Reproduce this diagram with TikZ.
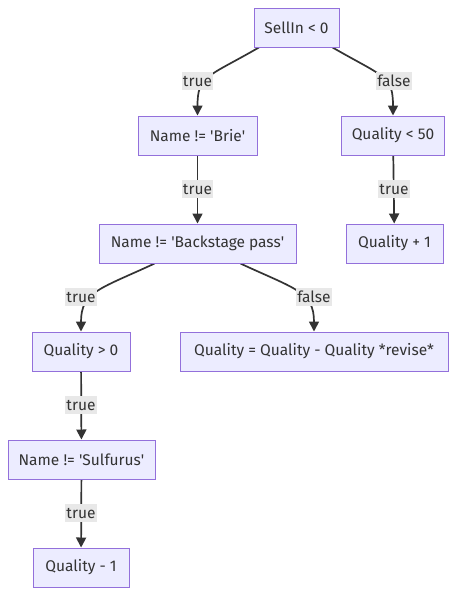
\documentclass[tikz,border=0pt]{standalone}
\usepackage{fontspec}
\setmainfont{Fira Sans}
\usepackage{xcolor}
\usepackage{tikz}
\usetikzlibrary{arrows.meta,backgrounds}
\definecolor{boxfill}{HTML}{ECECFF}
\definecolor{boxline}{HTML}{9370DB}
\definecolor{edgeink}{HTML}{333333}
\definecolor{labelfill}{HTML}{E8E8E8}
\newcommand{\sq}{\textquotesingle}
\tikzset{
  gildedpicture/.style={x=1pt, y=1pt},
  gildedbox/.style={draw=boxline, fill=boxfill, line width=1pt, font=\fontsize{15.5}{18}\selectfont, text=edgeink, inner xsep=10pt, inner ysep=0pt, minimum height=39pt},
  gildedlabel/.style={fill=labelfill, font=\fontsize{15.5}{18}\selectfont, text=edgeink, inner sep=1pt, minimum height=18pt},
  gildedarrow/.style={-{Triangle[length=10pt,width=10pt]}, line width=1.7pt, draw=edgeink},
  gildedbend/.style={out distance=60pt, in distance=40pt}
}

\begin{document}
\begin{tikzpicture}[gildedpicture]
\useasboundingbox (0,0) rectangle (456,-595);
\node[gildedbox, minimum width=85pt] (sellin) at (296.5,-27.5) {SellIn < 0};
\node[gildedbox, minimum width=119pt] (brie) at (197.5,-135.5) {Name != \sq Brie\sq};
\node[gildedbox, minimum width=102pt] (below50) at (393,-135.5) {Quality < 50};
\node[gildedbox, minimum width=197pt] (backstage) at (197.5,-243.5) {Name != \sq Backstage pass\sq};
\node[gildedbox, minimum width=97pt] (plusone) at (394.5,-243.5) {Quality + 1};
\node[gildedbox, minimum width=98pt] (above0) at (81,-351.5) {Quality > 0};
\node[gildedbox, minimum width=268pt] (revise) at (314,-351.5) {Quality = Quality - Quality *revise*};
\node[gildedbox, minimum width=147pt] (sulfurus) at (81.5,-459.5) {Name != \sq Sulfurus\sq};
\node[gildedbox, minimum width=96pt] (minusone) at (81,-567.5) {Quality - 1};
% edge labels
\node[gildedlabel] (t1) at (197.5,-81) {true};
\node[gildedlabel] (f1) at (394,-81) {false};
\node[gildedlabel] (t2) at (197.5,-189) {true};
\node[gildedlabel] (t3) at (394,-189) {true};
\node[gildedlabel] (t4) at (81,-297) {true};
\node[gildedlabel] (f2) at (314,-297) {false};
\node[gildedlabel] (t5) at (81,-405) {true};
\node[gildedlabel] (t6) at (81,-513) {true};
\begin{scope}[on background layer]
\draw[gildedarrow] (sellin.208) to[out=210,in=90,gildedbend] (brie.north);
\draw[gildedarrow] (sellin.331) to[out=-30,in=90,gildedbend] (below50.north);
\draw[gildedarrow] (brie) -- (backstage);
\draw[gildedarrow] (below50) -- (plusone);
\draw[gildedarrow] (backstage.205) to[out=205,in=90,gildedbend] (above0.north);
\draw[gildedarrow] (backstage.335) to[out=-25,in=90,gildedbend] (revise.north);
\draw[gildedarrow] (above0) -- (sulfurus);
\draw[gildedarrow] (sulfurus) -- (minusone);
\end{scope}
\end{tikzpicture}
\end{document}
